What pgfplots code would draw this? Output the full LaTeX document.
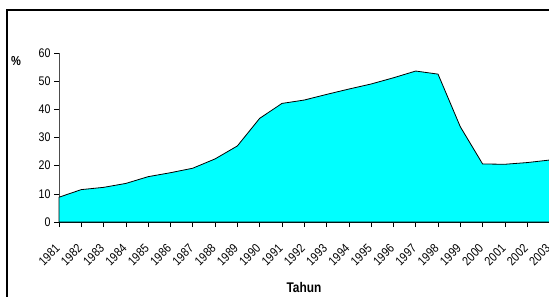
\documentclass[border=0pt]{standalone}
\usepackage{fontspec}
\setmainfont[FakeStretch=0.85]{Liberation Sans}
\usepackage{pgfplots}
\pgfplotsset{compat=1.18}
\begin{document}
\begin{tikzpicture}[x=1bp,y=1bp]
\begin{axis}[
  at={(59bp,75bp)}, anchor=south west,
  scale only axis, width=490.5bp, height=169bp,
  xmin=1981, xmax=2003, ymin=0, ymax=60,
  axis x line=bottom, axis y line=left,
  x axis line style={-, black, line width=1.5bp},
  y axis line style={-, black!70, line width=0.8bp},
  xtick={1981,...,2003}, xticklabels={},
  ytick={0,10,...,60},
  tick style={black, line width=0.6bp},
  major tick length=5bp,
  tick align=outside,
  /pgf/number format/assume math mode=true,
  /pgf/number format/1000 sep={},
  ticklabel style={font=\fontsize{12.5bp}{14bp}\selectfont},
  clip=false,
]
\addplot[draw=black, line width=0.8bp, fill={rgb,255:red,0;green,255;blue,255}] table {
x y
1981 8.8
1982 11.5
1983 12.3
1984 13.7
1985 16.1
1986 17.5
1987 19.1
1988 22.4
1989 27.0
1990 36.8
1991 42.1
1992 43.3
1993 45.3
1994 47.2
1995 49.0
1996 51.2
1997 53.6
1998 52.5
1999 33.8
2000 20.6
2001 20.5
2002 21.1
2003 22.0
} \closedcycle;
\pgfplotsinvokeforeach{1981,...,2003}{
  \node[rotate=45, anchor=east, inner sep=0.5bp, font=\fontsize{12.5bp}{14bp}\selectfont]
    at ([xshift=-1bp,yshift=-24bp]axis cs:#1,0) {#1};
}
\end{axis}
\node[font=\bfseries\fontsize{13bp}{15bp}\selectfont] at (16bp,236bp) {\%};
\node[font=\bfseries\fontsize{14bp}{16bp}\selectfont] at (304bp,10bp) {Tahun};
\draw[line width=2bp] (7bp,287bp) rectangle (620bp,-30bp);
\pgfresetboundingbox
\useasboundingbox (0,0) rectangle (549bp,297bp);
\end{tikzpicture}
\end{document}
